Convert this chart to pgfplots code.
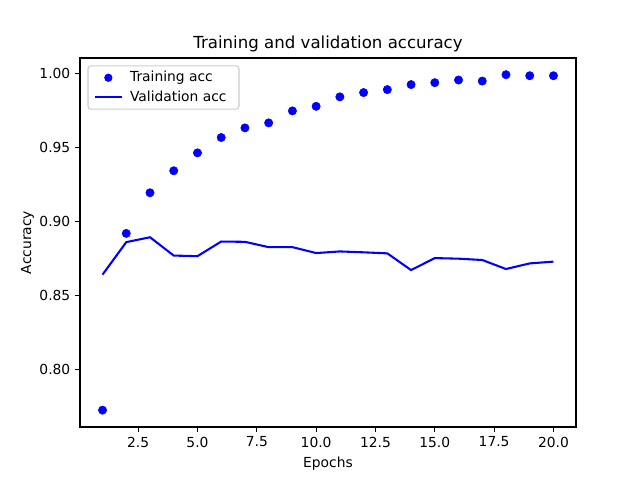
\documentclass[border=0pt]{standalone}
\usepackage{pgfplots}
\pgfplotsset{compat=1.18}
\usepackage{fontspec}
\setmainfont{DejaVu Sans}
\begin{document}
\begin{tikzpicture}
\useasboundingbox (0,0) rectangle (6.4in,4.8in);
\begin{axis}[
  at={(0.8in,0.53in)}, anchor=south west,
  scale only axis, width=4.96in, height=3.69in,
  xmin=0.05, xmax=20.95, ymin=0.7609, ymax=1.0106,
  xtick={2.5,5,7.5,10,12.5,15,17.5,20},
  ytick={0.80,0.85,0.90,0.95,1.00},
  xticklabel style={/pgf/number format/.cd,fixed,fixed zerofill,precision=1},
  yticklabel style={/pgf/number format/.cd,fixed,fixed zerofill,precision=2},
  /pgf/number format/assume math mode=true,
  tick align=outside, tick pos=left,
  major tick length=3.5pt,
  every tick/.style={black, line width=0.8pt},
  axis line style={line width=0.8pt},
  tick label style={font=\fontsize{10}{12}\selectfont},
  label style={font=\fontsize{10}{12}\selectfont},
  ylabel style={yshift=-3pt},
  title style={font=\fontsize{12}{14}\selectfont, yshift=-5pt},
  title={Training and validation accuracy},
  xlabel={Epochs}, ylabel={Accuracy},
  legend cell align=left,
  legend style={font=\fontsize{10}{12}\selectfont, draw=black!20, rounded corners=2pt, line width=0.8pt, at={(0.015,0.98)}, anchor=north west, inner xsep=4pt, inner ysep=2pt, row sep=1pt,
    nodes={inner xsep=5pt}},
]
\addplot[only marks, mark=*, mark size=3pt, color=blue,
  legend image code/.code={\path[draw=none,fill=none] (0cm,0cm) -- (0.7cm,0cm); \fill[blue,draw=none] (0.35cm,0cm) circle (3pt);}] coordinates {
(1,0.7723)(2,0.8919)(3,0.9194)(4,0.9343)(5,0.9464)(6,0.9568)(7,0.9633)(8,0.9667)(9,0.9748)(10,0.9779)
(11,0.9843)(12,0.9872)(13,0.9892)(14,0.9926)(15,0.9939)(16,0.9957)(17,0.9950)(18,0.9993)(19,0.9986)(20,0.9986)};
\addlegendentry{Training acc}
\addplot[color=blue, line width=1.5pt, mark=none,
  legend image code/.code={\draw[blue, line width=1.5pt] (0cm,0cm) -- (0.7cm,0cm);}] coordinates {
(1,0.8640)(2,0.8860)(3,0.8893)(4,0.8769)(5,0.8765)(6,0.8864)(7,0.8862)(8,0.8826)(9,0.8826)(10,0.8786)
(11,0.8797)(12,0.8791)(13,0.8784)(14,0.8671)(15,0.8752)(16,0.8748)(17,0.8739)(18,0.8678)(19,0.8716)(20,0.8728)};
\addlegendentry{Validation acc}
\end{axis}
\end{tikzpicture}
\end{document}
